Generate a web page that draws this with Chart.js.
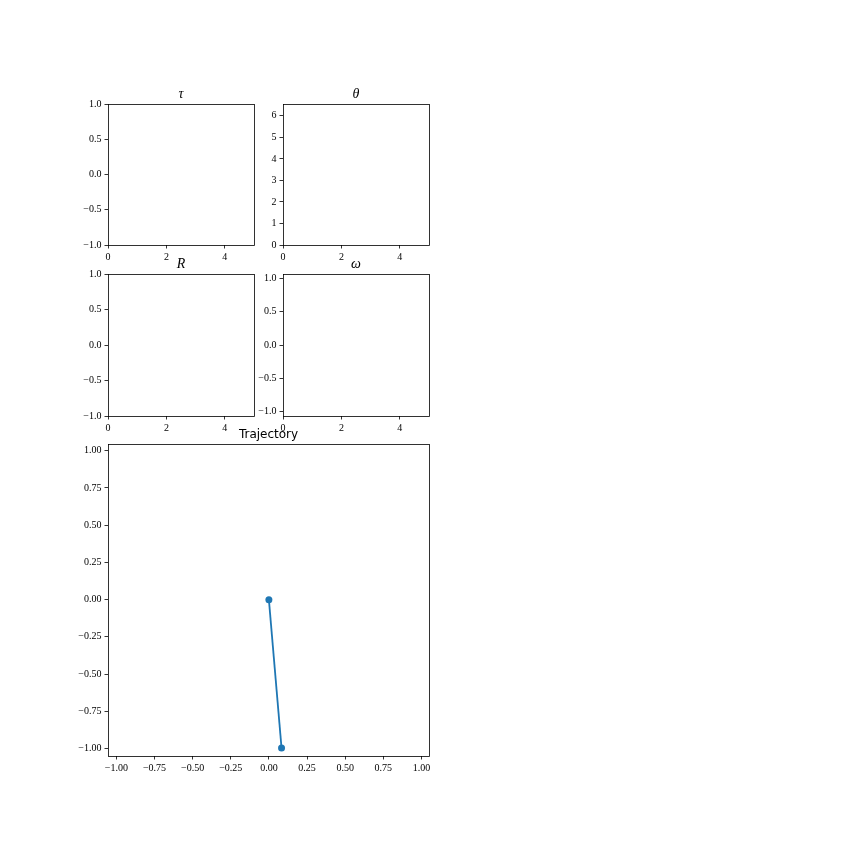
<!DOCTYPE html>
<html>
<head>
<meta charset="utf-8">
<script src="https://cdn.jsdelivr.net/npm/chart.js@4/dist/chart.umd.min.js"></script>
<style>
  html, body { margin: 0; padding: 0; background: #ffffff; }
  #wrap { position: relative; width: 864px; height: 864px; background: #ffffff; }
  #wrap canvas { position: absolute; left: 0; top: 0; }
</style>
</head>
<body>
<div id="wrap">
  <canvas id="cTau" width="864" height="864"></canvas>
  <canvas id="cTheta" width="864" height="864"></canvas>
  <canvas id="cR" width="864" height="864"></canvas>
  <canvas id="cOmega" width="864" height="864"></canvas>
  <canvas id="cTraj" width="864" height="864"></canvas>
</div>
<script>
// ---- data ----
const timeTicks = [0, 2, 4];
const tauTicks = [-1.0, -0.5, 0.0, 0.5, 1.0];
const thetaTicks = [0, 1, 2, 3, 4, 5, 6];
const rTicks = [-1.0, -0.5, 0.0, 0.5, 1.0];
const omegaTicks = [-1.0, -0.5, 0.0, 0.5, 1.0];
const trajTicks = [-1.00, -0.75, -0.50, -0.25, 0.00, 0.25, 0.50, 0.75, 1.00];
const trajX = [0.0, 0.083];
const trajY = [0.0, -0.997];

const titles = { tau: "\u03C4", theta: "\u03B8", r: "R", omega: "\u03C9", traj: "Trajectory" };

// ---- helpers ----
const YW = 44, XH = 20;
const tickFont = { family: "'Liberation Serif', 'DejaVu Serif', serif", size: 10 };
function fmt(v, dec) {
  const s = Math.abs(v).toFixed(dec);
  return (v < 0 && Number(s) !== 0) ? "\u2212" + s : s;
}
function axisOpts(min, max, ticks, dec, isX) {
  return {
    type: 'linear', min: min, max: max,
    afterBuildTicks: s => { s.ticks = ticks.map(v => ({ value: v })); },
    afterFit: s => { if (isX) s.height = XH; else s.width = YW; },
    grid: { drawOnChartArea: false, drawTicks: true, tickLength: 3.5, color: '#000', tickColor: '#000', lineWidth: 0.8 },
    border: { display: false },
    ticks: { font: tickFont, color: '#000', padding: 3, maxRotation: 0, autoSkip: false, callback: v => fmt(v, dec) }
  };
}
function frameTitlePlugin(title, font) {
  return {
    id: 'frameTitle',
    afterDraw(chart) {
      const { ctx, chartArea: a } = chart;
      ctx.save();
      ctx.strokeStyle = '#000';
      ctx.lineWidth = 0.8;
      ctx.strokeRect(Math.round(a.left) + 0.5, Math.round(a.top) + 0.5,
                     Math.round(a.right - a.left), Math.round(a.bottom - a.top));
      ctx.fillStyle = '#000';
      ctx.font = font;
      ctx.textAlign = 'center';
      ctx.textBaseline = 'alphabetic';
      ctx.fillText(title, (a.left + a.right) / 2, a.top - 6);
      ctx.restore();
    }
  };
}
function makeChart(id, box, xr, yr, xTicks, yTicks, xDec, yDec, title, titleFont, datasets) {
  return new Chart(document.getElementById(id), {
    type: 'line',
    data: { datasets: datasets },
    options: {
      responsive: false, animation: false, devicePixelRatio: 1,
      layout: { padding: { left: box.l - YW, right: 864 - box.r, top: box.t, bottom: 864 - box.b - XH } },
      plugins: { legend: { display: false }, tooltip: { enabled: false }, title: { display: false } },
      scales: {
        x: axisOpts(xr[0], xr[1], xTicks, xDec, true),
        y: axisOpts(yr[0], yr[1], yTicks, yDec, false)
      }
    },
    plugins: [frameTitlePlugin(title, titleFont)]
  });
}

const greekFont = "italic 14px 'Liberation Serif', 'DejaVu Serif', serif";
const sansFont = "12px 'DejaVu Sans', sans-serif";

makeChart('cTau',   { l: 108, r: 254, t: 104, b: 245 }, [0, 5], [-1, 1],     timeTicks, tauTicks,   0, 1, titles.tau,   greekFont, []);
makeChart('cTheta', { l: 283, r: 429, t: 104, b: 245 }, [0, 5], [0, 6.55],    timeTicks, thetaTicks, 0, 0, titles.theta, greekFont, []);
makeChart('cR',     { l: 108, r: 254, t: 274, b: 416 }, [0, 5], [-1, 1],      timeTicks, rTicks,     0, 1, titles.r,     greekFont, []);
makeChart('cOmega', { l: 283, r: 429, t: 274, b: 416 }, [0, 5], [-1.07, 1.07], timeTicks, omegaTicks, 0, 1, titles.omega, greekFont, []);

makeChart('cTraj', { l: 108, r: 429, t: 444, b: 756 }, [-1.055, 1.05], [-1.05, 1.045], trajTicks, trajTicks, 2, 2, titles.traj, sansFont, [{
  data: trajX.map((x, i) => ({ x: x, y: trajY[i] })),
  borderColor: '#1f77b4', backgroundColor: '#1f77b4',
  borderWidth: 1.8, pointRadius: 3.5, pointBorderWidth: 0, pointBackgroundColor: '#1f77b4',
  tension: 0, fill: false
}]);
</script>
</body>
</html>
